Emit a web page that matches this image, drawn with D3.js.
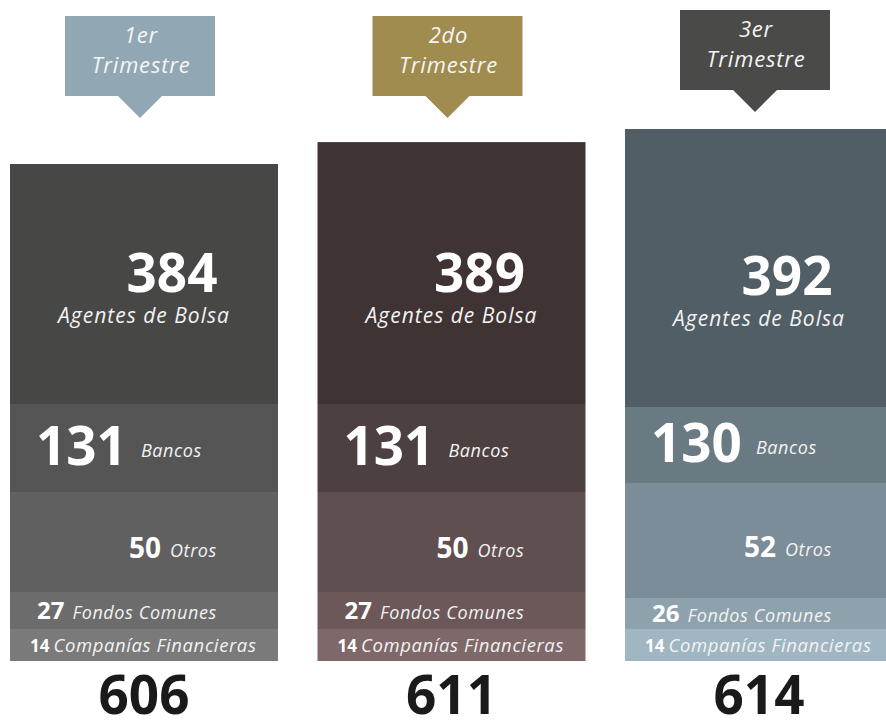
<!DOCTYPE html>
<html>
<head>
<meta charset="utf-8">
<script src="https://cdn.jsdelivr.net/npm/d3@7"></script>
<style>
  body { margin: 0; background: #fff; }
  text { font-family: "Open Sans", sans-serif; }
</style>
</head>
<body>
<div id="chartContainer"></div>
<script>
// valores por trimestre
var quarters = ["1er", "2do", "3er"];
var quarterWord = "Trimestre";
var categories = ["Agentes de Bolsa", "Bancos", "Otros", "Fondos Comunes", "Companías Financieras"];
var agentes = [384, 389, 392];
var bancos = [131, 131, 130];
var otros = [50, 50, 52];
var fondos = [27, 27, 26];
var companias = [14, 14, 14];
var totals = [606, 611, 614];

var calloutColors = ["#91a8b4", "#a08c4e", "#4a4a48"];
var segColors = [
	["#474746", "#555555", "#606060", "#6c6c6c", "#7a7a7a"],
	["#3f3334", "#4d4041", "#604f50", "#6c5859", "#7f686a"],
	["#525e65", "#6a7a83", "#7b8d98", "#8ea2ae", "#a0b6c3"]
];

var width = 886, height = 720;
var bottom = 661;

var svg = d3.select("#chartContainer").append("svg")
	.attr("width", width)
	.attr("height", height);

var x = d3.scaleBand()
	.domain(quarters)
	.range([10, 893])
	.paddingInner(0.1285);

// altura total de la columna
var yTop = d3.scaleLinear().domain([606, 614]).range([164, 129]);

// alturas de cada franja (diseño infográfico, no proporcional)
var hBancos = d3.scaleLinear().domain([130, 131]).range([76, 88]);
var hOtros = d3.scaleLinear().domain([50, 52]).range([100, 115]);
var hFondos = d3.scaleLinear().domain([26, 27]).range([31, 37]);
var hComp = d3.scaleLinear().domain([14, 15]).range([32, 34]);

var cols = quarters.map(function(q, i) {
	var x0 = x(q);
	var c1 = bottom - hComp(companias[i]);
	var f1 = c1 - hFondos(fondos[i]);
	var o1 = f1 - hOtros(otros[i]);
	var b1 = o1 - hBancos(bancos[i]);
	var top = yTop(totals[i]);
	return {
		q: q, i: i, x0: x0, cx: x0 + x.bandwidth() / 2,
		top: top,
		segs: [
			{cat: categories[0], v: agentes[i], y0: top, y1: b1},
			{cat: categories[1], v: bancos[i], y0: b1, y1: o1},
			{cat: categories[2], v: otros[i], y0: o1, y1: f1},
			{cat: categories[3], v: fondos[i], y0: f1, y1: c1},
			{cat: categories[4], v: companias[i], y0: c1, y1: bottom}
		]
	};
});

var colG = svg.selectAll(".col")
	.data(cols)
	.enter().append("g")
	.attr("class", "col");

colG.selectAll("rect")
	.data(function(d) { return d.segs.map(function(s, k) { s.k = k; s.col = d; return s; }); })
	.enter().append("rect")
	.attr("x", function(s) { return s.col.x0; })
	.attr("y", function(s) { return s.y0; })
	.attr("width", x.bandwidth())
	.attr("height", function(s) { return s.y1 - s.y0; })
	.attr("fill", function(s) { return segColors[s.col.i][s.k]; });

// Agentes de Bolsa
colG.append("text")
	.attr("x", function(d) { return d.cx + 28; })
	.attr("y", function(d) { return d.segs[0].y1 - 112; })
	.attr("text-anchor", "middle")
	.attr("fill", "#fff")
	.style("font-weight", "bold")
	.style("font-size", "53px")
	.text(function(d) { return d.segs[0].v; });

colG.append("text")
	.attr("x", function(d) { return d.cx; })
	.attr("y", function(d) { return d.segs[0].y1 - 81; })
	.attr("text-anchor", "middle")
	.attr("fill", "#f2f2f2")
	.style("font-style", "italic")
	.style("font-size", "21px")
	.style("letter-spacing", "1px")
	.text(categories[0]);

// resto de franjas: numero + etiqueta
var segText = [
	{k: 1, dx0: 26, dy: 17, num: 53, lab: 18, gap: 14, ldy: -8},
	{k: 2, dx0: 119, dy: 16, num: 28, lab: 18, gap: 9, ldy: -1},
	{k: 3, dx0: 27, dy: 8, num: 24, lab: 18, gap: 8, ldy: 0},
	{k: 4, dx0: 20, dy: 7, num: 17, lab: 18.5, gap: 4, ldy: 0}
];

segText.forEach(function(st) {
	var t = colG.append("text")
		.attr("x", function(d) { return d.x0 + st.dx0; })
		.attr("y", function(d) { var s = d.segs[st.k]; return (s.y0 + s.y1) / 2 + st.dy; })
		.attr("fill", "#fff");
	t.append("tspan")
		.style("font-weight", "bold")
		.style("font-size", st.num + "px")
		.text(function(d) { return d.segs[st.k].v; });
	t.append("tspan")
		.attr("dx", st.gap)
		.attr("dy", st.ldy)
		.attr("fill", "#f2f2f2")
		.style("font-style", "italic")
		.style("font-size", st.lab + "px")
		.style("letter-spacing", "0.6px")
		.text(categories[st.k]);
});

// totales
colG.append("text")
	.attr("x", function(d) { return d.cx; })
	.attr("y", 714)
	.attr("text-anchor", "middle")
	.attr("fill", "#1a1a1a")
	.style("font-weight", "bold")
	.style("font-size", "53px")
	.text(function(d) { return totals[d.i]; });

// globos de trimestre
var bw = 150, bh = 80, tri = 22, tipH = 22;
var callout = colG.append("g")
	.attr("transform", function(d) {
		var ty = Math.min(16, d.top - 119);
		return "translate(" + (d.cx - 4) + "," + ty + ")";
	});

callout.append("path")
	.attr("d", "M" + (-bw / 2) + ",0H" + (bw / 2) + "V" + bh + "H" + tri + "L0," + (bh + tipH) + "L" + (-tri) + "," + bh + "H" + (-bw / 2) + "Z")
	.attr("fill", function(d) { return calloutColors[d.i]; });

callout.selectAll("text.qt")
	.data(function(d) { return [d.q, quarterWord]; })
	.enter().append("text")
	.attr("class", "qt")
	.attr("x", 1)
	.attr("y", function(t, j) { return 27 + j * 30; })
	.attr("text-anchor", "middle")
	.attr("fill", "#f5f5f5")
	.style("font-style", "italic")
	.style("font-size", "22px")
	.style("letter-spacing", "0.8px")
	.text(function(t) { return t; });
</script>
</body>
</html>
